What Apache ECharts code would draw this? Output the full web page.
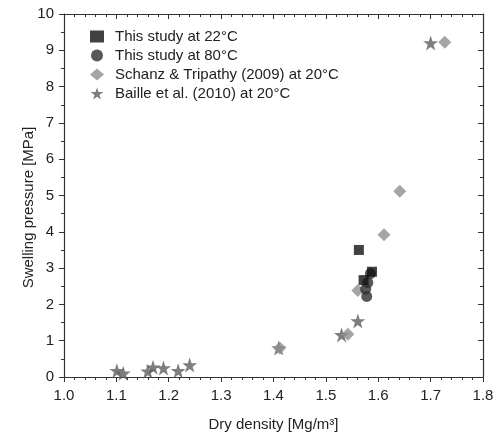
<!DOCTYPE html>
<html><head><meta charset="utf-8">
<script src="https://cdn.jsdelivr.net/npm/echarts@6/dist/echarts.min.js"></script>
<style>html,body{margin:0;padding:0;background:#fff}#c{width:499px;height:435px}</style>
</head><body><div id="c"></div>
<script>
const seriesNames = ['This study at 22°C','This study at 80°C','Schanz & Tripathy (2009) at 20°C','Baille et al. (2010) at 20°C'];
const study22 = [[1.563,3.50],[1.588,2.90],[1.572,2.67]];
const study80 = [[1.585,2.85],[1.580,2.60],[1.576,2.42],[1.578,2.22]];
const schanz = [[1.727,9.22],[1.641,5.12],[1.611,3.92],[1.561,2.38],[1.542,1.18],[1.412,0.80]];
const baille = [[1.700,9.20],[1.561,1.54],[1.530,1.16],[1.410,0.80],[1.101,0.17],[1.113,0.10],[1.160,0.16],[1.170,0.27],[1.190,0.25],[1.218,0.17],[1.240,0.33]];
const xTicks = [1.0,1.8,0.1];
const yTicks = [0,10,1];

const font = 'Liberation Sans, Arial, sans-serif';
const axColor = '#333';
const txt = '#222';
const chart = echarts.init(document.getElementById('c'));
const baseX = {
  type:'value', min:xTicks[0], max:xTicks[1], interval:xTicks[2],
  axisLine:{show:true,onZero:false,lineStyle:{color:axColor,width:1.2}},
  splitLine:{show:false}
};
const baseY = {
  type:'value', min:yTicks[0], max:yTicks[1], interval:yTicks[2],
  axisLine:{show:true,onZero:false,lineStyle:{color:axColor,width:1.2}},
  splitLine:{show:false}
};
chart.setOption({
  animation:false,
  backgroundColor:'#fff',
  grid:{left:64,right:16,top:14,bottom:58,containLabel:false,outerBoundsMode:'none'},
  legend:{
    orient:'vertical', left:85, top:24, itemGap:4, itemWidth:14, itemHeight:12,
    textStyle:{fontFamily:font,fontSize:15,color:txt,padding:[0,0,0,6]},
    data:seriesNames
  },
  xAxis:[
    Object.assign({},baseX,{position:'bottom',
      name:'Dry density [Mg/m³]', nameLocation:'middle', nameGap:40, nameMoveOverlap:false,
      nameTextStyle:{fontFamily:font,fontSize:15,color:txt},
      axisTick:{show:true,inside:false,length:5,lineStyle:{color:axColor}},
      minorTick:{show:true,splitNumber:5,length:3,lineStyle:{color:axColor}},
      axisLabel:{fontFamily:font,fontSize:15,color:txt,margin:11,
        formatter:v=>v.toFixed(1)}}),
    Object.assign({},baseX,{position:'top',
      axisTick:{show:true,inside:true,length:5,lineStyle:{color:axColor}},
      minorTick:{show:true,splitNumber:5,length:3,lineStyle:{color:axColor}},
      axisLabel:{show:false}})
  ],
  yAxis:[
    Object.assign({},baseY,{position:'left',
      name:'Swelling pressure [MPa]', nameLocation:'middle', nameGap:28, nameMoveOverlap:false,
      nameTextStyle:{fontFamily:font,fontSize:15,color:txt,padding:[0,24,0,0]},
      axisTick:{show:true,inside:false,length:5,lineStyle:{color:axColor}},
      minorTick:{show:true,splitNumber:2,length:3,lineStyle:{color:axColor}},
      axisLabel:{fontFamily:font,fontSize:15,color:txt,margin:10}}),
    Object.assign({},baseY,{position:'right',
      axisTick:{show:true,inside:true,length:5,lineStyle:{color:axColor}},
      minorTick:{show:true,splitNumber:2,length:3,lineStyle:{color:axColor}},
      axisLabel:{show:false}})
  ],
  series:[
    {name:seriesNames[3],type:'scatter',data:baille,symbol:'path://M50,0 L61.8,35.5 L99,35.5 L69,57.5 L80.5,93 L50,71 L19.5,93 L31,57.5 L1,35.5 L38.2,35.5 Z',symbolSize:15,itemStyle:{color:'#5e5e5e'},z:2},
    {name:seriesNames[2],type:'scatter',data:schanz,symbol:'diamond',symbolSize:[13,13],itemStyle:{color:'#8f8f8f'},z:3},
    {name:seriesNames[1],type:'scatter',data:study80,symbol:'circle',symbolSize:11,itemStyle:{color:'#2e2e2e'},z:4},
    {name:seriesNames[0],type:'scatter',data:study22,symbol:'rect',symbolSize:10,itemStyle:{color:'#111'},z:5}
  ]
});
</script></body></html>
